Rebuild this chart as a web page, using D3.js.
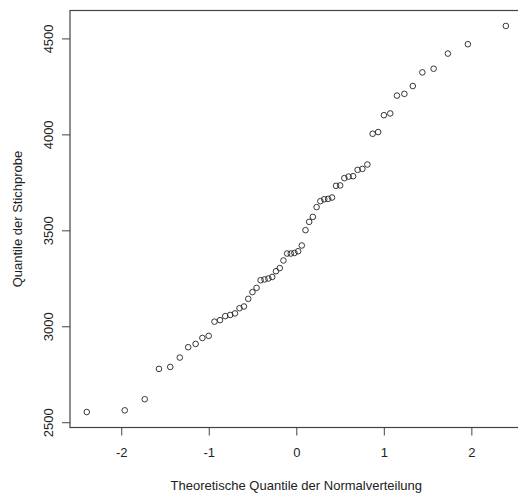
<!DOCTYPE html>
<html>
<head>
<meta charset="utf-8">
<script src="https://cdn.jsdelivr.net/npm/d3@7"></script>
<style>
    body { margin: 0; background: #fff; }
    .axisText { font-family: "Liberation Sans", Arial, sans-serif; font-size: 13px; fill: #222; }
</style>
</head>
<body>
<script>
//qq plot of the sample against the normal distribution

//theoretical quantiles (x)
var theoQuantiles = [-2.394, -1.960, -1.732, -1.569, -1.440, -1.331, -1.235, -1.150, -1.073, -1.001,
    -0.935, -0.872, -0.812, -0.755, -0.701, -0.649, -0.598, -0.549, -0.501, -0.454,
    -0.408, -0.363, -0.319, -0.275, -0.232, -0.189, -0.147, -0.105, -0.063, -0.021,
    0.021, 0.063, 0.105, 0.147, 0.189, 0.232, 0.275, 0.319, 0.363, 0.408,
    0.454, 0.501, 0.549, 0.598, 0.649, 0.701, 0.755, 0.812, 0.872, 0.935,
    1.001, 1.073, 1.150, 1.235, 1.331, 1.440, 1.569, 1.732, 1.960, 2.394];

//sample quantiles (y)
var sampleQuantiles = [2553, 2562, 2620, 2778, 2788, 2837, 2891, 2908, 2939, 2950,
    3024, 3032, 3053, 3059, 3067, 3094, 3103, 3143, 3178, 3200,
    3240, 3244, 3249, 3257, 3287, 3303, 3343, 3379, 3379, 3382,
    3391, 3421, 3501, 3544, 3570, 3621, 3652, 3662, 3664, 3671,
    3732, 3734, 3772, 3780, 3782, 3815, 3820, 3843, 4003, 4012,
    4100, 4109, 4202, 4211, 4252, 4323, 4342, 4421, 4470, 4565];

var xTicks = [-2, -1, 0, 1, 2];
var yTicks = [2500, 3000, 3500, 4000, 4500];

var xTitle = "Theoretische Quantile der Normalverteilung";
var yTitle = "Quantile der Stichprobe";

window.onload = setChart();

function setChart(){
    var width = 518,
        height = 497;

    //plot box (right edge falls just outside the picture)
    var left = 70, right = 522.6, top = 10.5, bottom = 427.5;

    var svg = d3.select("body")
        .append("svg")
        .attr("width", width)
        .attr("height", height);

    //R style 4% padding on both axes
    var xExt = d3.extent(theoQuantiles),
        yExt = d3.extent(sampleQuantiles);
    var xPad = (xExt[1] - xExt[0]) * 0.04,
        yPad = (yExt[1] - yExt[0]) * 0.04;

    var x = d3.scaleLinear()
        .domain([xExt[0] - xPad, xExt[1] + xPad])
        .range([left, right]);

    var y = d3.scaleLinear()
        .domain([yExt[0] - yPad, yExt[1] + yPad])
        .range([bottom, top]);

    //plain hyphen for negatives, like R
    var fmt = function(d){ return String(d); };

    //box
    svg.append("rect")
        .attr("x", left)
        .attr("y", top)
        .attr("width", right - left)
        .attr("height", bottom - top)
        .attr("fill", "none")
        .attr("stroke", "#444")
        .attr("stroke-width", 1.2);

    //bottom axis
    var xAxis = d3.axisBottom(x)
        .tickValues(xTicks)
        .tickSize(8)
        .tickPadding(12)
        .tickFormat(fmt);

    var gx = svg.append("g")
        .attr("transform", "translate(0," + bottom + ")")
        .call(xAxis);
    gx.select(".domain").remove();
    gx.selectAll("line").attr("stroke", "#444");
    gx.selectAll("text")
        .attr("class", "axisText")
        .attr("fill", null);

    //left axis, labels rotated like R
    var yAxis = d3.axisLeft(y)
        .tickValues(yTicks)
        .tickSize(8)
        .tickFormat(fmt);

    var gy = svg.append("g")
        .attr("transform", "translate(" + left + ",0)")
        .call(yAxis);
    gy.select(".domain").remove();
    gy.selectAll("line").attr("stroke", "#444");
    gy.selectAll("text")
        .attr("class", "axisText")
        .attr("fill", null)
        .attr("x", null)
        .attr("dy", null)
        .attr("transform", "translate(-17,0) rotate(-90)")
        .attr("text-anchor", "middle");

    //axis titles
    svg.append("text")
        .attr("class", "axisText")
        .attr("x", (left + right) / 2)
        .attr("y", 490)
        .attr("text-anchor", "middle")
        .text(xTitle);

    svg.append("text")
        .attr("class", "axisText")
        .attr("transform", "translate(22," + ((top + bottom) / 2) + ") rotate(-90)")
        .attr("text-anchor", "middle")
        .text(yTitle);

    //points
    svg.selectAll(".pt")
        .data(theoQuantiles)
        .enter()
        .append("circle")
        .attr("class", "pt")
        .attr("cx", function(d){ return x(d); })
        .attr("cy", function(d, i){ return y(sampleQuantiles[i]); })
        .attr("r", 2.8)
        .attr("fill", "none")
        .attr("stroke", "#222")
        .attr("stroke-width", 0.9);
};
</script>
</body>
</html>
